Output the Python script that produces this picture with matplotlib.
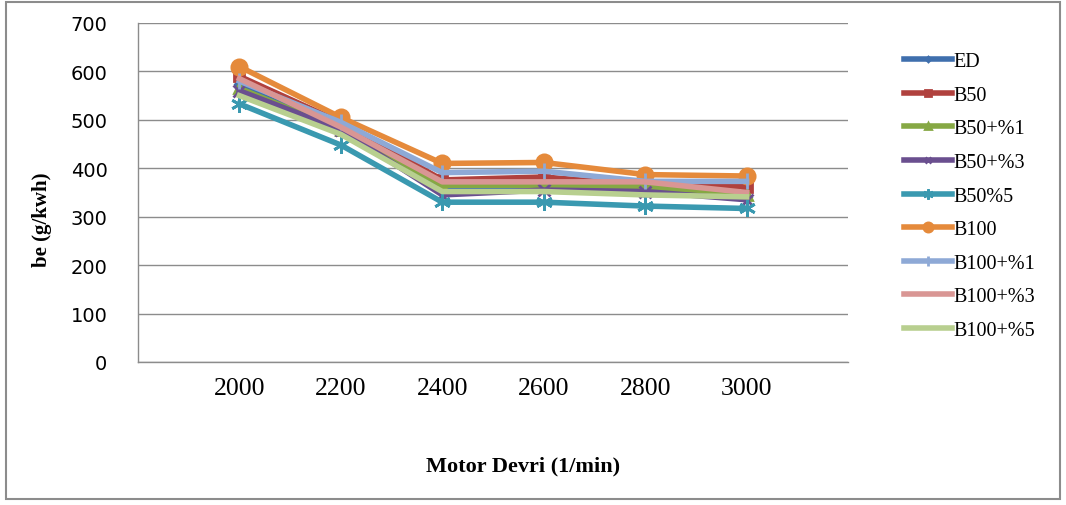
import numpy as np
import matplotlib
matplotlib.use("Agg")
import matplotlib.pyplot as plt
from matplotlib.patches import Rectangle

# motor speed (1/min)
rpm = [2000, 2200, 2400, 2600, 2800, 3000]

# specific fuel consumption be (g/kWh)
ed = [575, 490, 360, 360, 350, 340]
b50 = [590, 495, 376, 382, 365, 362]
b50_1 = [565, 480, 365, 365, 362, 345]
b50_3 = [560, 480, 345, 355, 352, 335]
b50_5 = [533, 448, 330, 330, 322, 317]
b100 = [610, 505, 410, 412, 387, 384]
b100_1 = [580, 495, 391, 394, 373, 373]
b100_3 = [585, 485, 372, 372, 372, 350]
b100_5 = [550, 470, 352, 352, 345, 341]

series = [
    ("ED", ed, "#3F6FAD", "D", 4),
    ("B50", b50, "#B0413E", "s", 7),
    ("B50+%1", b50_1, "#86A844", "^", 7),
    ("B50+%3", b50_3, "#6A4F8F", "x", 8),
    ("B50%5", b50_5, "#3A99B0", (6, 2, 0), 12),
    ("B100", b100, "#E58A3B", "o", 11),
    ("B100+%1", b100_1, "#8EA9D6", "|", 12),
    ("B100+%3", b100_3, "#D99694", "None", 0),
    ("B100+%5", b100_5, "#B8CF8F", "None", 0),
]

fig = plt.figure(figsize=(10.66, 5.06), dpi=100)
ax = fig.add_axes([138 / 1066, 1 - 363 / 506, 710 / 1066, 339 / 506])

for name, vals, col, mk, ms in series:
    ax.plot(rpm, vals, color=col, lw=4, marker=mk, markersize=ms,
            markeredgewidth=2, markerfacecolor=col, markeredgecolor=col,
            label=name, solid_joinstyle="round")

ax.set_xlim(1800, 3200)
ax.set_ylim(0, 700)
ax.set_yticks(range(0, 701, 100))
ax.set_xticks(rpm)
ax.set_xticklabels([str(r) for r in rpm], family="Liberation Serif", fontsize=18.5)
for lbl in ax.get_yticklabels():
    lbl.set_family("DejaVu Sans")
    lbl.set_fontsize(14)
ax.tick_params(axis="x", length=0, pad=11)
ax.tick_params(axis="y", length=0, pad=22)
ax.grid(axis="y", color="#8c8c8c", lw=1)
ax.set_axisbelow(True)
for s in ["top", "right"]:
    ax.spines[s].set_visible(False)
for s in ["left", "bottom"]:
    ax.spines[s].set_color("#8c8c8c")
    ax.spines[s].set_linewidth(1)

fig.text(523 / 1066, 1 - 466 / 506, "Motor Devri (1/min)", ha="center", va="center",
         family="Liberation Serif", fontweight="bold", fontsize=16)
fig.text(42 / 1066, 1 - 220 / 506, "be (g/kwh)", ha="center", va="center", rotation=90,
         family="Liberation Serif", fontweight="bold", fontsize=15)

ax.legend(loc="upper left", bbox_to_anchor=(886 / 1066, 1 - 35 / 506),
          bbox_transform=fig.transFigure, frameon=False,
          prop={"family": "Liberation Serif", "size": 14.5},
          handlelength=2.4, handletextpad=0.05, labelspacing=0.72, markerscale=0.6)

fig.patches.append(Rectangle((6 / 1066, 6 / 506), 1054 / 1066, 497 / 506,
                             transform=fig.transFigure, fill=False,
                             ec="#8c8c8c", lw=1.5))

fig.savefig("out.png", dpi=100)
